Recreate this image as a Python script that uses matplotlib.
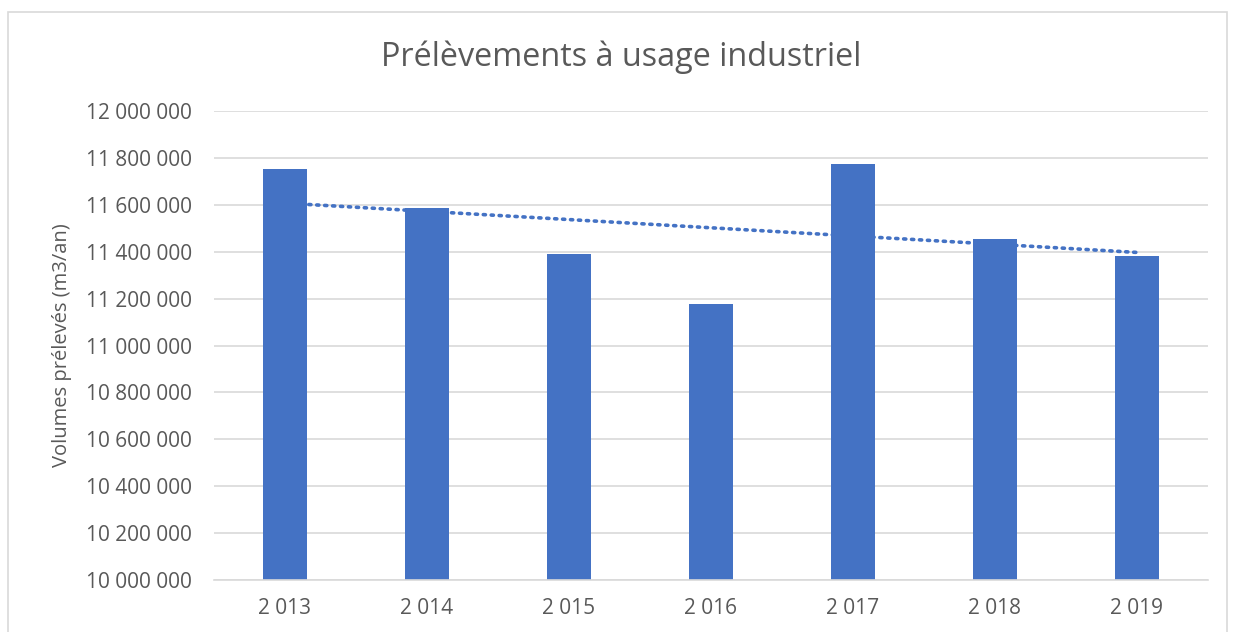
import numpy as np
import matplotlib.pyplot as plt
from matplotlib.patches import Rectangle
from matplotlib.ticker import FuncFormatter

# Données (m3/an)
annees = [2013, 2014, 2015, 2016, 2017, 2018, 2019]
volumes = [11751000, 11586000, 11389000, 11176000, 11774000, 11455000, 11383000]

plt.rcParams['font.family'] = ['Open Sans', 'DejaVu Sans']
gris = '#595959'
bleu = '#4472C4'

def espace_milliers(v, pos=None):
    return '{:,.0f}'.format(v).replace(',', ' ')

fig = plt.figure(figsize=(12.35, 6.32), dpi=100)
ax = fig.add_axes([214 / 1235, 1 - 580 / 632, 994 / 1235, 469 / 632])

x = np.arange(len(annees))
ax.bar(x, volumes, width=0.31, color=bleu, zorder=2)

# Courbe de tendance linéaire
a, b = np.polyfit(x, volumes, 1)
ax.plot(x, a * x + b, linestyle=(0, (0.6, 1.6)), linewidth=2.6,
        color=bleu, dash_capstyle='round', zorder=3)

ax.set_xlim(-0.5, len(annees) - 0.5)
ax.set_ylim(10000000, 12000000)
ax.set_yticks(np.arange(10000000, 12000001, 200000))
ax.yaxis.set_major_formatter(FuncFormatter(espace_milliers))
ax.set_xticks(x)
ax.set_xticklabels([espace_milliers(a_) for a_ in annees])

ax.grid(axis='y', color='#D9D9D9', linewidth=1.2, zorder=0)
for s in ['top', 'right', 'left']:
    ax.spines[s].set_visible(False)
ax.spines['bottom'].set_color('#D9D9D9')
ax.spines['bottom'].set_linewidth(1.2)
ax.tick_params(axis='both', length=0, labelsize=15, colors=gris)
ax.tick_params(axis='y', pad=16)
ax.tick_params(axis='x', pad=13)

ax.set_ylabel('Volumes prélevés (m3/an)', fontsize=14.5, color=gris, labelpad=10)
fig.text(0.503, 1 - 57 / 632, 'Prélèvements à usage industriel',
         ha='center', va='center', fontsize=23.3, color=gris)

# Cadre du graphique
fig.patches.append(Rectangle((8 / 1235, -0.02), 1219 / 1235, 1 - 12 / 632 + 0.02,
                             transform=fig.transFigure, fill=False,
                             edgecolor='#D9D9D9', linewidth=1.2))

fig.savefig('out.png', dpi=100)
